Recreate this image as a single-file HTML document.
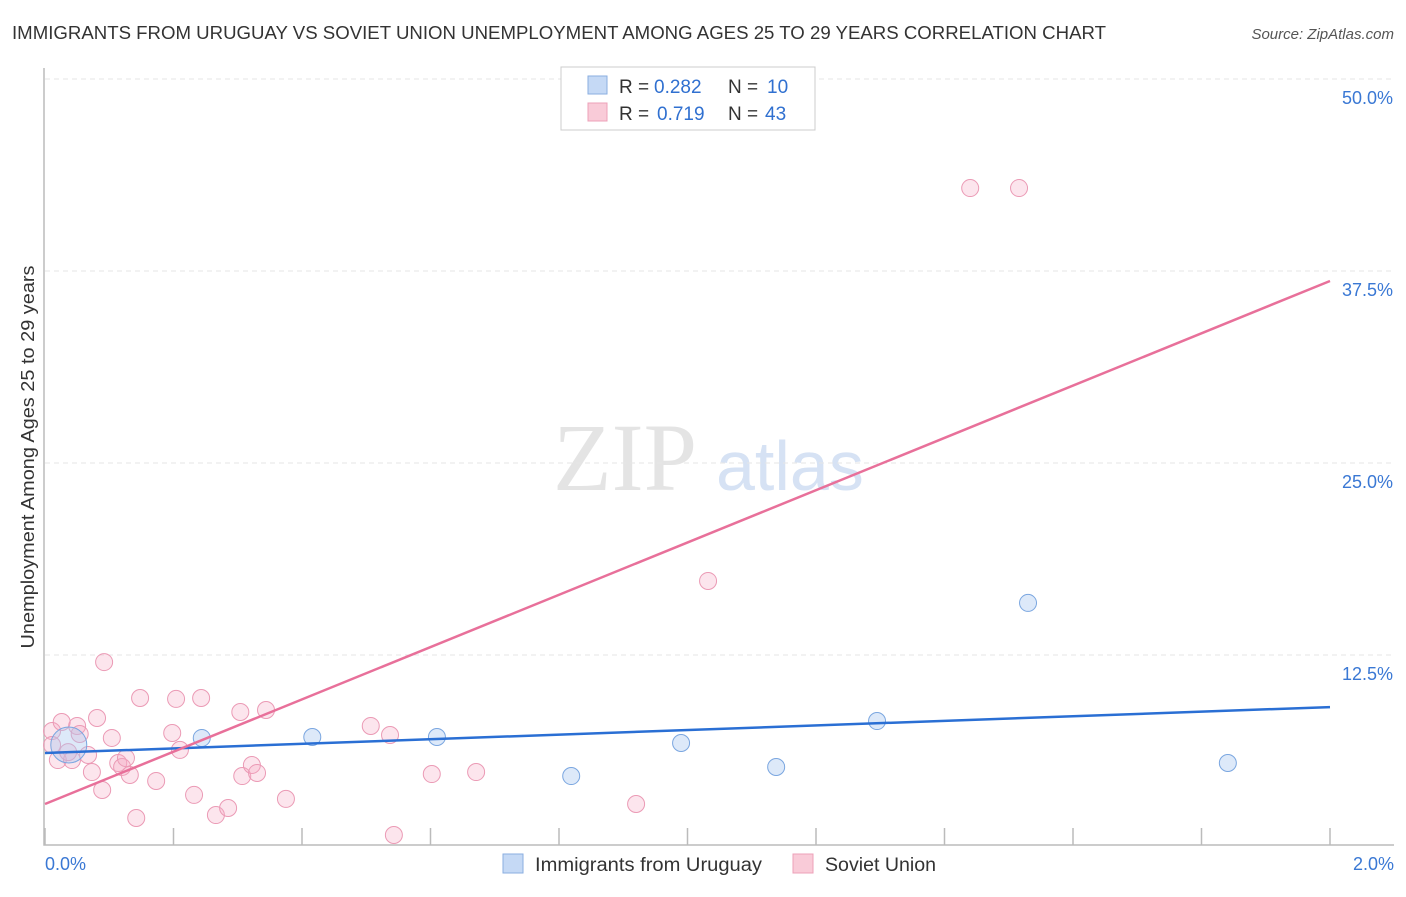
<!DOCTYPE html>
<html><head><meta charset="utf-8"><style>
body{margin:0;background:#fff;font-family:"Liberation Sans",sans-serif;}
</style></head><body>
<svg id="chart" width="1406" height="892" xmlns="http://www.w3.org/2000/svg" font-family="Liberation Sans, sans-serif">
<text x="12" y="39" font-size="18" fill="#333" textLength="1094" lengthAdjust="spacingAndGlyphs">IMMIGRANTS FROM URUGUAY VS SOVIET UNION UNEMPLOYMENT AMONG AGES 25 TO 29 YEARS CORRELATION CHART</text>
<text x="1394" y="39" font-size="15" fill="#555" text-anchor="end" font-style="italic">Source: ZipAtlas.com</text>
<text x="553" y="490" font-size="96" fill="#e4e4e4" style="font-family:'Liberation Serif',serif">ZIP</text>
<text x="716" y="490" font-size="70" fill="#d6e2f4">atlas</text>
<text transform="translate(34,457) rotate(-90)" font-size="18" fill="#333" text-anchor="middle" textLength="383" lengthAdjust="spacingAndGlyphs">Unemployment Among Ages 25 to 29 years</text>
<g id="grid"></g><g id="axes"></g><g id="marks"></g>
<g>
<rect x="561" y="67" width="254" height="63" fill="#fff" stroke="#ccc"/>
<rect x="588" y="76" width="19" height="18" fill="#c5d9f5" stroke="#8aaee0"/>
<rect x="588" y="103" width="19" height="18" fill="#f9cbd8" stroke="#eda0b8"/>
<text x="619" y="93" font-size="19" fill="#333">R =</text>
<text x="654" y="93" font-size="19" fill="#3070d0">0.282</text>
<text x="728" y="93" font-size="19" fill="#333">N =</text>
<text x="767" y="93" font-size="19" fill="#3070d0">10</text>
<text x="619" y="120" font-size="19" fill="#333">R =</text>
<text x="657" y="120" font-size="19" fill="#3070d0">0.719</text>
<text x="728" y="120" font-size="19" fill="#333">N =</text>
<text x="765" y="120" font-size="19" fill="#3070d0">43</text>
</g>
<g>
<rect x="503" y="854" width="20" height="19" fill="#c5d9f5" stroke="#8aaee0"/>
<text x="535" y="871" font-size="19" fill="#333" textLength="227" lengthAdjust="spacingAndGlyphs">Immigrants from Uruguay</text>
<rect x="793" y="854" width="20" height="19" fill="#f9cbd8" stroke="#eda0b8"/>
<text x="825" y="871" font-size="19" fill="#333" textLength="111" lengthAdjust="spacingAndGlyphs">Soviet Union</text>
</g>
</svg>
<script>
const yTicks=[12.5,25,37.5,50];
const yTickLabels=["12.5%","25.0%","37.5%","50.0%"];
const xTickLabels=["0.0%","2.0%"];
const blueX=[0.037,0.244,0.416,0.610,0.819,0.990,1.138,1.295,1.530,1.841];
const blueY=[6.64,7.10,7.16,7.16,4.62,6.77,5.21,8.20,15.89,5.47];
const pinkX=[0.011,0.026,0.020,0.042,0.050,0.054,0.036,0.067,0.073,0.089,0.092,0.081,0.104,0.114,0.120,0.126,0.132,0.142,0.148,0.173,0.198,0.204,0.210,0.232,0.243,0.266,0.285,0.304,0.307,0.322,0.330,0.344,0.375,0.507,0.537,0.543,0.602,0.671,0.920,1.032,1.440,1.516,0.011];
const pinkY=[7.55,8.14,5.66,5.66,7.88,7.36,6.18,5.99,4.88,3.71,12.04,8.40,7.10,5.47,5.21,5.79,4.69,1.89,9.70,4.30,7.42,9.64,6.32,3.39,9.70,2.08,2.54,8.79,4.62,5.34,4.82,8.92,3.13,7.88,7.29,0.78,4.75,4.88,2.80,17.32,42.90,42.90,6.64];
const blueLine=[6.12,9.11];
const pinkLine=[2.80,36.85];
const X=v=>45+v*642.5, Y=v=>847-v*15.36;
const NS="http://www.w3.org/2000/svg";
function mk(t,a,p){const e=document.createElementNS(NS,t);for(const k in a)e.setAttribute(k,a[k]);p.appendChild(e);return e;}
const grid=document.getElementById('grid'),axes=document.getElementById('axes'),marks=document.getElementById('marks');
yTicks.forEach((t,i)=>{
 const l=mk('line',{x1:45,x2:1394,y1:Y(t),y2:Y(t),stroke:'#e6e6e6','stroke-dasharray':'5,4'},grid);
 
 
 const tx=mk('text',{x:1393,y:Y(t)+25,'font-size':18,fill:'#3a78d4','text-anchor':'end'},axes);
 tx.textContent=yTickLabels[i];
 
 
});
const ax=mk('path',{d:'M44 68 V845 H1394',fill:'none',stroke:'#bbb','stroke-width':1.5},axes);


for(let i=0;i<=10;i++){const x=X(i*0.2);
 const t=mk('line',{x1:x,x2:x,y1:828,y2:845,stroke:'#bbb','stroke-width':1.5},axes);
 
 }
[[0,'start',45],[2,'end',1394]].forEach((d,i)=>{
 const tx=mk('text',{x:d[2],y:870,'font-size':18,fill:'#3a78d4','text-anchor':d[1]},axes);
 tx.textContent=xTickLabels[i];
 
 });
pinkX.forEach((v,i)=>{const c=mk('circle',{cx:X(v),cy:Y(pinkY[i]),r:8.5,fill:'rgba(245,170,195,0.3)',stroke:'#eb9ab5','stroke-width':1},marks);
 
 });
blueX.forEach((v,i)=>{const c=mk('circle',{cx:X(v),cy:Y(blueY[i]),r:i==0?18:8.5,fill:'rgba(170,200,240,0.4)',stroke:'#7aa6e0','stroke-width':1},marks);
 
 });
const bl=mk('line',{x1:X(0),x2:X(2),y1:Y(blueLine[0]),y2:Y(blueLine[1]),stroke:'#2a6fd4','stroke-width':2.5},marks);


const pl=mk('line',{x1:X(0),x2:X(2),y1:Y(pinkLine[0]),y2:Y(pinkLine[1]),stroke:'#e8709a','stroke-width':2.5},marks);


</script>
</body></html>
